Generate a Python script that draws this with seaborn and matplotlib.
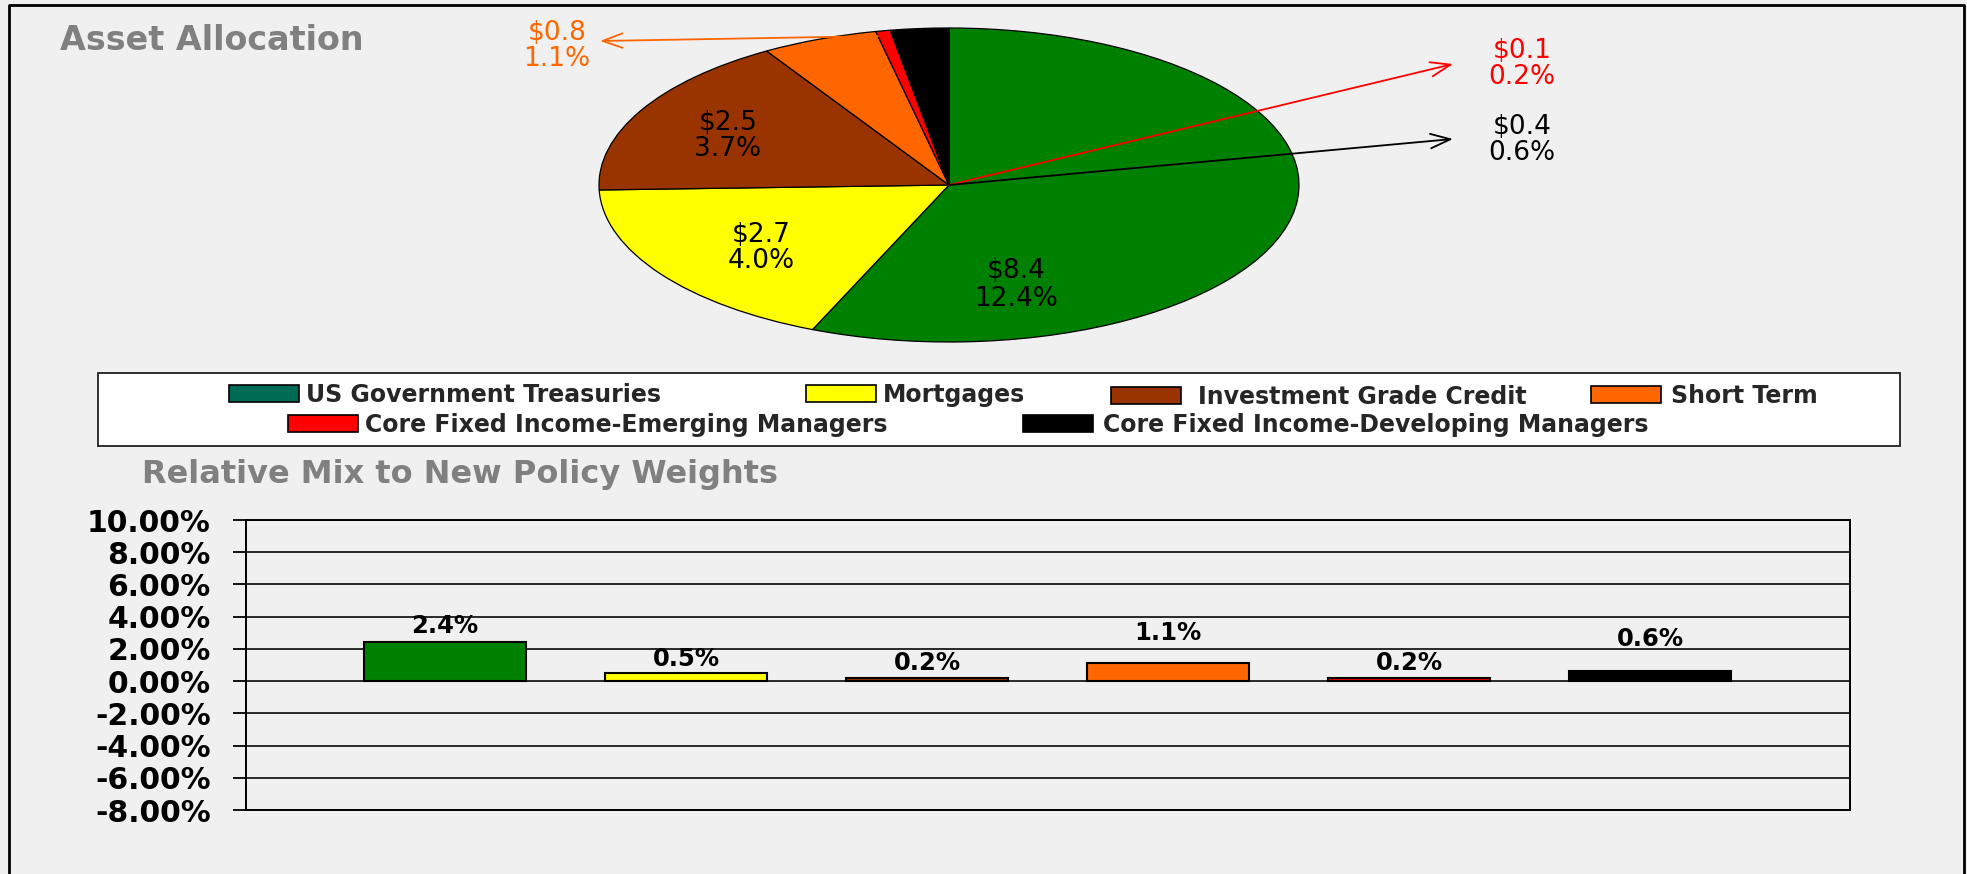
import numpy as np
import pandas as pd
import matplotlib
matplotlib.use("Agg")
import matplotlib.pyplot as plt
import seaborn as sns
from matplotlib.patches import Patch, Rectangle
from matplotlib.lines import Line2D

# ---------------- data ----------------
categories = ["US Government Treasuries", "Mortgages", "Investment Grade Credit",
              "Short Term", "Core Fixed Income-Emerging Managers",
              "Core Fixed Income-Developing Managers"]
amounts = [8.4, 2.7, 2.5, 0.8, 0.1, 0.4]            # $ billions
pct_of_total = [12.4, 4.0, 3.7, 1.1, 0.2, 0.6]       # % of total fund
relative_mix = [2.4, 0.5, 0.2, 1.1, 0.2, 0.6]        # % relative to new policy weights
slice_colors = ["#008000", "#FFFF00", "#993300", "#FF6600", "#FF0000", "#000000"]
legend_colors = ["#006B54", "#FFFF00", "#993300", "#FF6600", "#FF0000", "#000000"]
yticks = [-8, -6, -4, -2, 0, 2, 4, 6, 8, 10]

# ---------------- style ----------------
sns.set_style("white")
plt.rcParams["font.family"] = ["DejaVu Sans"]
BG = "#F0F0F0"
W, H = 1967, 874

fig = plt.figure(figsize=(W / 100, H / 100), dpi=100, facecolor=BG)

# ---------------- pie ----------------
PIE_TOP = 360
CX, CY, RX, RY = 949, 185, 350, 157
ax_pie = fig.add_axes([0, 1 - PIE_TOP / H, 1, PIE_TOP / H])
wedges, _ = ax_pie.pie(amounts, colors=slice_colors, startangle=90, counterclock=False,
                       wedgeprops=dict(edgecolor="black", linewidth=0.9))
ax_pie.set_aspect("auto")
ax_pie.set_xlim((0 - CX) / RX, (W - CX) / RX)
ax_pie.set_ylim((CY - PIE_TOP) / RY, CY / RY)
ax_pie.axis("off")


def px(x, y):
    return ((x - CX) / RX, (CY - y) / RY)


label_px = [(1016, 285), (761, 248), (728, 136), (557, 46), (1522, 64), (1522, 140)]
label_colors = ["black", "black", "black", slice_colors[3], slice_colors[4], slice_colors[5]]
for i, (a, p) in enumerate(zip(amounts, pct_of_total)):
    ax_pie.text(*px(*label_px[i]), f"${a}\n{p:.1f}%", ha="center", va="center",
                fontsize=19, color=label_colors[i], linespacing=1.05)

# leader arrows for the small slices
arrow_tips = {3: (600, 41), 4: (1453, 64), 5: (1453, 139)}
for i, tip in arrow_tips.items():
    w = wedges[i]
    if i == 3:
        ang = np.deg2rad(min(w.theta1, w.theta2))
        start = (0.97 * np.cos(ang), 0.97 * np.sin(ang))
    else:
        start = w.center
    ax_pie.annotate("", xy=px(*tip), xytext=start,
                    arrowprops=dict(arrowstyle="->,head_length=0.55,head_width=0.2",
                                    color=slice_colors[i], lw=1.3, mutation_scale=26,
                                    shrinkA=0, shrinkB=0))

fig.text(60 / W, 1 - 50 / H, "Asset Allocation", fontsize=24, fontweight="bold",
         color="#808080", ha="left", va="baseline")

# ---------------- legend ----------------
fig.add_artist(Rectangle((98 / W, 1 - 446 / H), (1900 - 98) / W, (446 - 373) / H,
                         transform=fig.transFigure, facecolor="white",
                         edgecolor="#202020", linewidth=1.3, zorder=1))
leg_pos = [(229, 395), (806, 395), (1111, 397), (1591, 396), (288, 425), (1023, 425)]
leg_pads = [0.3, 0.3, 0.75, 0.45, 0.3, 0.45]
for name, col, (lx, ly), pad in zip(categories, legend_colors, leg_pos, leg_pads):
    fig.legend(handles=[Patch(facecolor=col, edgecolor="black", linewidth=1.2)],
               labels=[name], loc="center left", bbox_to_anchor=(lx / W, 1 - ly / H),
               frameon=False, borderpad=0, borderaxespad=0, handlelength=2.95,
               handleheight=0.7, handletextpad=pad,
               prop=dict(size=17, weight="bold"))

# ---------------- bar chart ----------------
fig.text(142 / W, 1 - 483 / H, "Relative Mix to New Policy Weights", fontsize=23,
         fontweight="bold", color="#808080", ha="left", va="baseline")

L, R, T, B = 246, 1850, 520, 810
ax_bar = fig.add_axes([L / W, 1 - B / H, (R - L) / W, (B - T) / H])
ax_bar.set_facecolor(BG)
df = pd.DataFrame({"category": categories, "mix": relative_mix})
sns.barplot(data=df, x="category", y="mix", hue="category", palette=slice_colors,
            legend=False, width=0.67, saturation=1, edgecolor="black", linewidth=1.5,
            ax=ax_bar)
ax_bar.set_xlim(-0.826, 5.83)
ax_bar.set_ylim(-8, 10)
ax_bar.set_yticks(yticks)
ax_bar.set_yticklabels([f"{v:.2f}%" for v in yticks], fontweight="bold")
ax_bar.set_xticks([])
ax_bar.set_xlabel("")
ax_bar.set_ylabel("")
ax_bar.yaxis.grid(True, color="#1a1a1a", linewidth=1.3)
ax_bar.set_axisbelow(True)
for s in ax_bar.spines.values():
    s.set_visible(True)
    s.set_color("black")
    s.set_linewidth(1.4)
ax_bar.tick_params(axis="y", direction="out", length=9.4, width=1.3, pad=16,
                   labelsize=21.5, colors="black", left=True)

label_pad = [3, 1.5, 2, 13, 2, 15]
for cont, v, pd_ in zip(ax_bar.containers, relative_mix, label_pad):
    ax_bar.bar_label(cont, labels=[f"{v}%"], padding=pd_, fontsize=17.5,
                     fontweight="bold", color="black")

# ---------------- outer frame ----------------
fig.add_artist(Line2D([9 / W, 9 / W, 1964 / W, 1964 / W],
                      [-0.1, 1 - 5 / H, 1 - 5 / H, -0.1],
                      transform=fig.transFigure, color="black", linewidth=2))

fig.savefig("out.png", dpi=100, facecolor=BG)
